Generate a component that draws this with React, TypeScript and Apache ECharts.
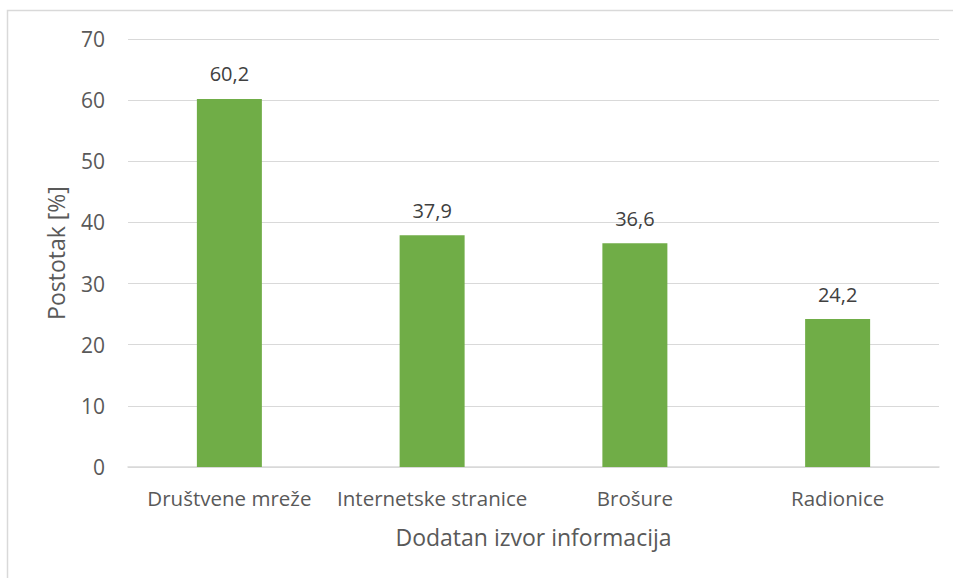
import React, { useEffect, useRef } from "react";
import * as echarts from "echarts";

const categories = ["Društvene mreže", "Internetske stranice", "Brošure", "Radionice"];
const values = [60.2, 37.9, 36.6, 24.2];
const yTicks = { min: 0, max: 70, interval: 10 };
const xTitle = "Dodatan izvor informacija";
const yTitle = "Postotak [%]";

export default function App() {
  const ref = useRef<HTMLDivElement>(null);
  useEffect(() => {
    if (!ref.current) return;
    const chart = echarts.init(ref.current, undefined, { renderer: "svg" });
    const font = "'Open Sans', sans-serif";
    chart.setOption({
      animation: false,
      backgroundColor: "#ffffff",
      textStyle: { fontFamily: font },
      graphic: [
        {
          type: "rect",
          shape: { x: 7.5, y: 10.5, width: 1000, height: 700 },
          style: { fill: "none", stroke: "#D9D9D9", lineWidth: 1.5 },
          silent: true,
        },
      ],
      grid: { left: 128, right: 14, top: 39, bottom: 111 },
      xAxis: {
        type: "category",
        data: categories,
        name: xTitle,
        nameLocation: "middle",
        nameGap: 58,
        nameTextStyle: { fontSize: 23, color: "#595959", fontFamily: font },
        axisLine: { lineStyle: { color: "#D9D9D9", width: 1.5 } },
        axisTick: { show: false },
        axisLabel: { fontSize: 20.5, color: "#595959", margin: 20, interval: 0, fontFamily: font },
      },
      yAxis: {
        type: "value",
        min: yTicks.min,
        max: yTicks.max,
        interval: yTicks.interval,
        name: yTitle,
        nameLocation: "middle",
        nameGap: 61,
        nameTextStyle: { fontSize: 23, color: "#595959", fontFamily: font },
        axisLine: { show: false },
        axisTick: { show: false },
        axisLabel: { fontSize: 21, color: "#595959", margin: 23, fontFamily: font },
        splitLine: { lineStyle: { color: "#D9D9D9", width: 1 } },
      },
      series: [
        {
          type: "bar",
          data: values,
          barWidth: 65,
          itemStyle: { color: "#70AD47" },
          label: {
            show: true,
            position: "top",
            distance: 15,
            fontSize: 20,
            color: "#404040",
            fontFamily: font,
            formatter: (p: any) => String(p.value).replace(".", ","),
          },
        },
      ],
    });
    return () => chart.dispose();
  }, []);
  return (
    <div
      ref={ref}
      style={{ position: "fixed", left: 0, top: 0, width: 953, height: 578 }}
    />
  );
}
